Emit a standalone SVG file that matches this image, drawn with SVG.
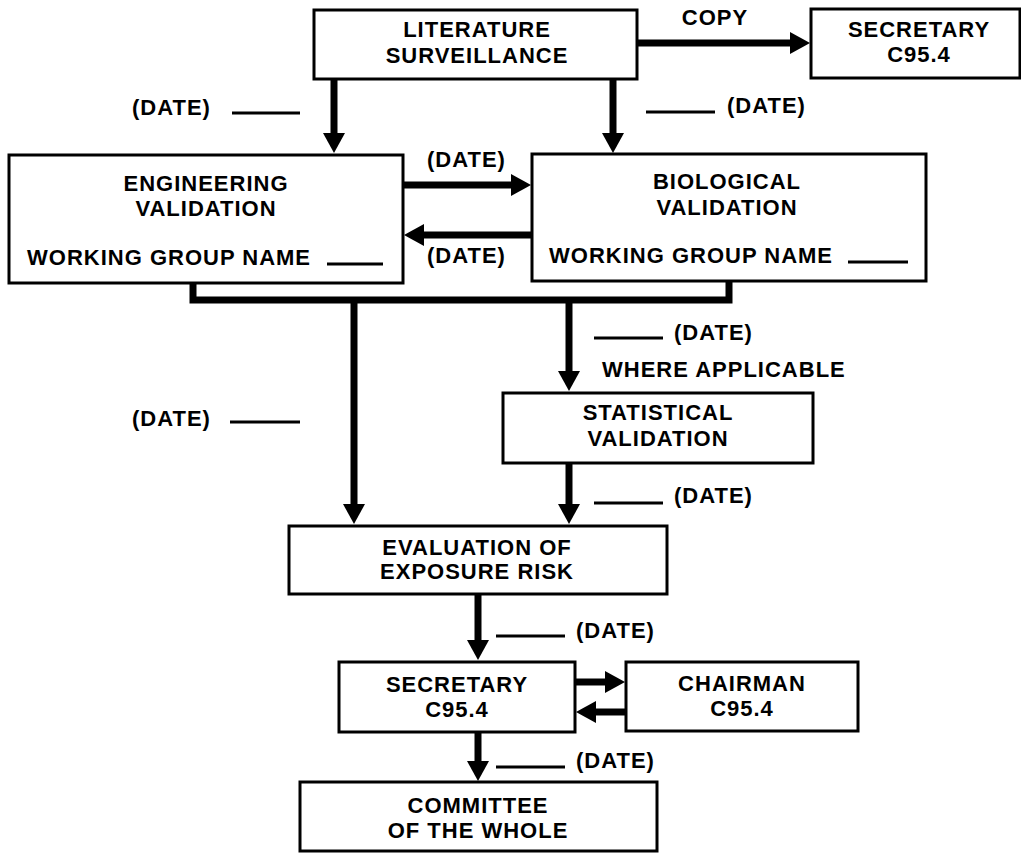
<svg xmlns="http://www.w3.org/2000/svg" width="1021" height="853" viewBox="0 0 1021 853">
<style>
  .box { fill: #fff; stroke: #000; stroke-width: 3; }
  .t { font-family: "Liberation Sans", Arial, sans-serif; font-weight: bold; font-size: 22px; letter-spacing: 1px; fill: #000; }
  .c { text-anchor: middle; }
  .conn { fill: none; stroke: #000; stroke-width: 7; }
  .ul { stroke: #000; stroke-width: 3; }
</style>
<defs>
  <marker id="ah" viewBox="0 -11 20 22" markerWidth="20" markerHeight="22" refX="1" refY="0" orient="auto" markerUnits="userSpaceOnUse">
    <path d="M0,-11 L20,0 L0,11 Z" fill="#000"/>
  </marker>
</defs>
<rect width="1021" height="853" fill="#fff"/>

<g id="connectors">
  <line class="conn" x1="637" y1="43" x2="791" y2="43" marker-end="url(#ah)"/>
  <line class="conn" x1="334" y1="79" x2="334" y2="134" marker-end="url(#ah)"/>
  <line class="conn" x1="613" y1="79" x2="613" y2="134" marker-end="url(#ah)"/>
  <line class="conn" x1="403" y1="185" x2="512" y2="185" marker-end="url(#ah)"/>
  <line class="conn" x1="532" y1="235" x2="423" y2="235" marker-end="url(#ah)"/>
  <polyline class="conn" points="193,283 193,300 729,300 729,281" stroke-linejoin="miter"/>
  <line class="conn" x1="354" y1="300" x2="354" y2="505" marker-end="url(#ah)"/>
  <line class="conn" x1="569" y1="300" x2="569" y2="372" marker-end="url(#ah)"/>
  <line class="conn" x1="569" y1="463" x2="569" y2="505" marker-end="url(#ah)"/>
  <line class="conn" x1="478" y1="594" x2="478" y2="641" marker-end="url(#ah)"/>
  <line class="conn" x1="575" y1="682" x2="606" y2="682" marker-end="url(#ah)"/>
  <line class="conn" x1="626" y1="712" x2="595" y2="712" marker-end="url(#ah)"/>
  <line class="conn" x1="478" y1="732" x2="478" y2="762" marker-end="url(#ah)"/>
</g>

<g id="labels">
  <text class="t c" x="715" y="25">COPY</text>
  <text class="t" x="132" y="115">(DATE)</text>
  <line class="ul" x1="232" y1="113" x2="300" y2="113"/>
  <line class="ul" x1="646" y1="112" x2="715" y2="112"/>
  <text class="t" x="727" y="113">(DATE)</text>
  <text class="t" x="427" y="167">(DATE)</text>
  <text class="t" x="427" y="263">(DATE)</text>
  <line class="ul" x1="594" y1="338" x2="663" y2="338"/>
  <text class="t" x="674" y="340">(DATE)</text>
  <text class="t" x="602" y="377">WHERE APPLICABLE</text>
  <text class="t" x="132" y="426">(DATE)</text>
  <line class="ul" x1="230" y1="422" x2="300" y2="422"/>
  <line class="ul" x1="594" y1="503" x2="663" y2="503"/>
  <text class="t" x="674" y="503">(DATE)</text>
  <line class="ul" x1="496" y1="636" x2="565" y2="636"/>
  <text class="t" x="576" y="638">(DATE)</text>
  <line class="ul" x1="496" y1="767" x2="565" y2="767"/>
  <text class="t" x="576" y="768">(DATE)</text>
</g>

<g id="literature">
  <rect class="box" x="314" y="10" width="323" height="69"/>
  <text class="t c" x="477" y="37">LITERATURE</text>
  <text class="t c" x="477" y="63">SURVEILLANCE</text>
</g>

<g id="secretary-top">
  <rect class="box" x="811" y="9" width="209" height="69"/>
  <text class="t c" x="919" y="37">SECRETARY</text>
  <text class="t c" x="919" y="62">C95.4</text>
</g>

<g id="engineering">
  <rect class="box" x="9" y="155" width="394" height="128"/>
  <text class="t c" x="206" y="191">ENGINEERING</text>
  <text class="t c" x="206" y="216">VALIDATION</text>
  <text class="t" x="27" y="265">WORKING GROUP NAME</text>
  <line class="ul" x1="327" y1="264" x2="383" y2="264"/>
</g>

<g id="biological">
  <rect class="box" x="532" y="154" width="394" height="127"/>
  <text class="t c" x="727" y="189">BIOLOGICAL</text>
  <text class="t c" x="727" y="215">VALIDATION</text>
  <text class="t" x="549" y="263">WORKING GROUP NAME</text>
  <line class="ul" x1="848" y1="262" x2="908" y2="262"/>
</g>

<g id="statistical">
  <rect class="box" x="503" y="393" width="310" height="70"/>
  <text class="t c" x="658" y="420">STATISTICAL</text>
  <text class="t c" x="658" y="446">VALIDATION</text>
</g>

<g id="evaluation">
  <rect class="box" x="289" y="526" width="378" height="68"/>
  <text class="t c" x="477" y="555">EVALUATION OF</text>
  <text class="t c" x="477" y="579">EXPOSURE RISK</text>
</g>

<g id="secretary">
  <rect class="box" x="339" y="662" width="236" height="70"/>
  <text class="t c" x="457" y="692">SECRETARY</text>
  <text class="t c" x="457" y="717">C95.4</text>
</g>

<g id="chairman">
  <rect class="box" x="626" y="662" width="232" height="69"/>
  <text class="t c" x="742" y="691">CHAIRMAN</text>
  <text class="t c" x="742" y="716">C95.4</text>
</g>

<g id="committee">
  <rect class="box" x="300" y="782" width="357" height="69"/>
  <text class="t c" x="478" y="813">COMMITTEE</text>
  <text class="t c" x="478" y="838">OF THE WHOLE</text>
</g>
</svg>
